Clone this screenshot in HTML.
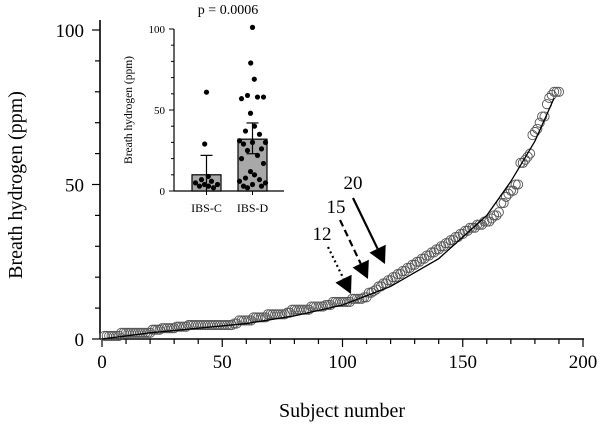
<!DOCTYPE html>
<html><head><meta charset="utf-8"><style>
html,body{margin:0;padding:0;background:#fff}
svg{display:block;font-family:"Liberation Serif",serif}
</style></head><body>
<svg id="c" width="600" height="426" viewBox="0 0 600 426"></svg>
<script>
const subjectValues=[1,1,1,1,1,1,1,
2,2,2,2,2,2,2,2,2,2,2,2,2,
3,3,3,3,3.5,3.5,3.5,3.5,3.5,3.5,4,4,4,4,4,
4.5,4.5,4.5,4.5,4.5,4.5,4.5,4.5,4.5,4.5,4.5,4.5,4.5,4.5,4.5,4.5,4.5,4.5,4.5,5,5,
6,6,6,6,6,6,
7,7,7,7,7,7,
8,8,8,8,8,8,8,8,8.5,8.5,
9.5,9.5,9.5,9.5,9.5,9.5,9.5,9.5,
10.5,10.5,10.5,10.5,10.5,10.5,11,11,11,
12,12,12,12,12,12,12,12,
13,13,13,13,13,13.5,13.5,
15,15,15.5,16,
17,17,18,18,19,19,
20,20,21,21,22,22,23,23,24,24,
25,25,26,26,27,27,28,28,29,29,
30,30,31,31,32,32,33,33,34,34,
35,35,36,36,36,37,37,37,38,38,
38,39,40,40,41,44,
44,46,47,48,48,
50,50,57,57,58,
59,60,66,67,68,
70,72,72,76,78,
79,80,80,80];
const fitX=[0,20,40,60,80,100,120,140,160,170,180,188];
const fitY=[0,2,3.5,5,7.5,11,17,26,40,51,64,78];
const xTicks=[0,50,100,150,200];
const yTicks=[0,50,100];
const groups=["IBS-C","IBS-D"];
const groupMeans=[10,32];
const groupErrLo=[0,23];
const groupErrHi=[22,42];
const ibsC=[61,29,9,7,6,5,4,4,3,3,2];
const ibsD=[101,79,69,59,58,57,58,48,40,37,35,31,30,30,29,26,25,22,20,17,12,10,8,7,6,5,4,3,3,2];
const insetTicks=[0,50,100];

const NS="http://www.w3.org/2000/svg";
const svg=document.getElementById('c');
function mk(t,a,p){const e=document.createElementNS(NS,t);for(const k in a)e.setAttribute(k,a[k]);(p||svg).appendChild(e);return e;}
const X=v=>102+v*2.405, Y=v=>339-v*3.09;
const g=mk('g',{});
// axes
let a=mk('line',{x1:100,y1:339,x2:584,y2:339,stroke:'#000','stroke-width':1.6},g);

a=mk('line',{x1:100,y1:20,x2:100,y2:339,stroke:'#000','stroke-width':1.6},g);

for(let v=0;v<=200;v+=10){const big=v%50==0;mk('line',{x1:X(v),y1:339,x2:X(v),y2:339+(big?8:5),stroke:'#000','stroke-width':1.2},g);}
for(let v=0;v<=100;v+=10){mk('line',{x1:100,y1:Y(v),x2:(v%50==0?92:95),y2:Y(v),stroke:'#000','stroke-width':1.2},g);}
xTicks.forEach(v=>{const t=mk('text',{x:X(v),y:368,'text-anchor':'middle','font-size':19},g);t.textContent=v;
});
yTicks.forEach(v=>{const t=mk('text',{x:84,y:Y(v)+7,'text-anchor':'end','font-size':19},g);t.textContent=v;
});
let t=mk('text',{x:342,y:417,'text-anchor':'middle','font-size':20},g);t.textContent='Subject number';

t=mk('text',{x:0,y:0,'text-anchor':'middle','font-size':20,transform:'translate(22,185) rotate(-90)'},g);t.textContent='Breath hydrogen (ppm)';

// points
subjectValues.forEach((v,i)=>{const c=mk('circle',{cx:X(i+1),cy:Y(v),r:4.6,fill:'none',stroke:'#555','stroke-width':0.9},g);
});
// fit
let d=fitX.map((x,i)=>(i?'L':'M')+X(x)+','+Y(fitY[i])).join('');
const f=mk('path',{d:d,fill:'none',stroke:'#000','stroke-width':1.3},g);

// arrows
function arrow(lbl,lx,ly,x1,y1,x2,y2,dash,name){
 const ag=mk('g',{},g);
 const ang=Math.atan2(y2-y1,x2-x1),L=17,W=9;
 const bx=x2-L*Math.cos(ang),by=y2-L*Math.sin(ang);
 mk('line',{x1:x1,y1:y1,x2:bx,y2:by,stroke:'#000','stroke-width':2.2,'stroke-dasharray':dash},ag);
 const px=-Math.sin(ang)*W,py=Math.cos(ang)*W;
 mk('polygon',{points:`${x2},${y2} ${bx+px},${by+py} ${bx-px},${by-py}`,fill:'#000'},ag);
 const tt=mk('text',{x:lx,y:ly,'text-anchor':'middle','font-size':19},ag);tt.textContent=lbl;}
arrow('12',322,240,328,247,351,294,'2,3','arrow-12');
arrow('15',336,213,340,220,368,279,'7,4','arrow-15');
arrow('20',353,189,353,198,385,264,'none','arrow-20');
// inset
const ig=mk('g',{});
const IY=v=>191-v*1.62;
mk('line',{x1:174,y1:29,x2:174,y2:191,stroke:'#000','stroke-width':1.2},ig);
mk('line',{x1:174,y1:191,x2:284,y2:191,stroke:'#000','stroke-width':1.2},ig);
for(let v=0;v<=100;v+=10)mk('line',{x1:174,y1:IY(v),x2:(v%50==0?169:171),y2:IY(v),stroke:'#000','stroke-width':1},ig);
insetTicks.forEach(v=>{const q=mk('text',{x:165,y:IY(v)+4,'text-anchor':'end','font-size':11},ig);q.textContent=v;
});
t=mk('text',{x:0,y:0,'text-anchor':'middle','font-size':11.5,transform:'translate(132,110) rotate(-90)'},ig);t.textContent='Breath hydrogen (ppm)';

t=mk('text',{x:228,y:14,'text-anchor':'middle','font-size':14},ig);t.textContent='p = 0.0006';

const cx=[206.5,252.5];
groups.forEach((gn,i)=>{
 const r=mk('rect',{x:cx[i]-14.5,y:IY(groupMeans[i]),width:29,height:IY(0)-IY(groupMeans[i]),fill:'#a8a8a8',stroke:'#000','stroke-width':1.2},ig);
 
 mk('line',{x1:cx[i],y1:IY(groupErrLo[i]),x2:cx[i],y2:IY(groupErrHi[i]),stroke:'#000','stroke-width':1.2},ig);
 mk('line',{x1:cx[i]-6,y1:IY(groupErrHi[i]),x2:cx[i]+6,y2:IY(groupErrHi[i]),stroke:'#000','stroke-width':1.2},ig);
 if(groupErrLo[i]>0)mk('line',{x1:cx[i]-6,y1:IY(groupErrLo[i]),x2:cx[i]+6,y2:IY(groupErrLo[i]),stroke:'#000','stroke-width':1.2},ig);
 mk('line',{x1:cx[i],y1:191,x2:cx[i],y2:195,stroke:'#000','stroke-width':1},ig);
 const q=mk('text',{x:cx[i],y:212,'text-anchor':'middle','font-size':12},ig);q.textContent=gn;
 
});
const jit=[0,-9,9,-5,5,-11,11,-2,2,-7,7,-13,13];
[ibsC,ibsD].forEach((arr,i)=>arr.forEach((v,j)=>{
 const c=mk('circle',{cx:cx[i]+jit[j%jit.length]*(j<3?0.2:1),cy:IY(v),r:2.6,fill:'#000'},ig);
 }));
</script>
</body></html>
